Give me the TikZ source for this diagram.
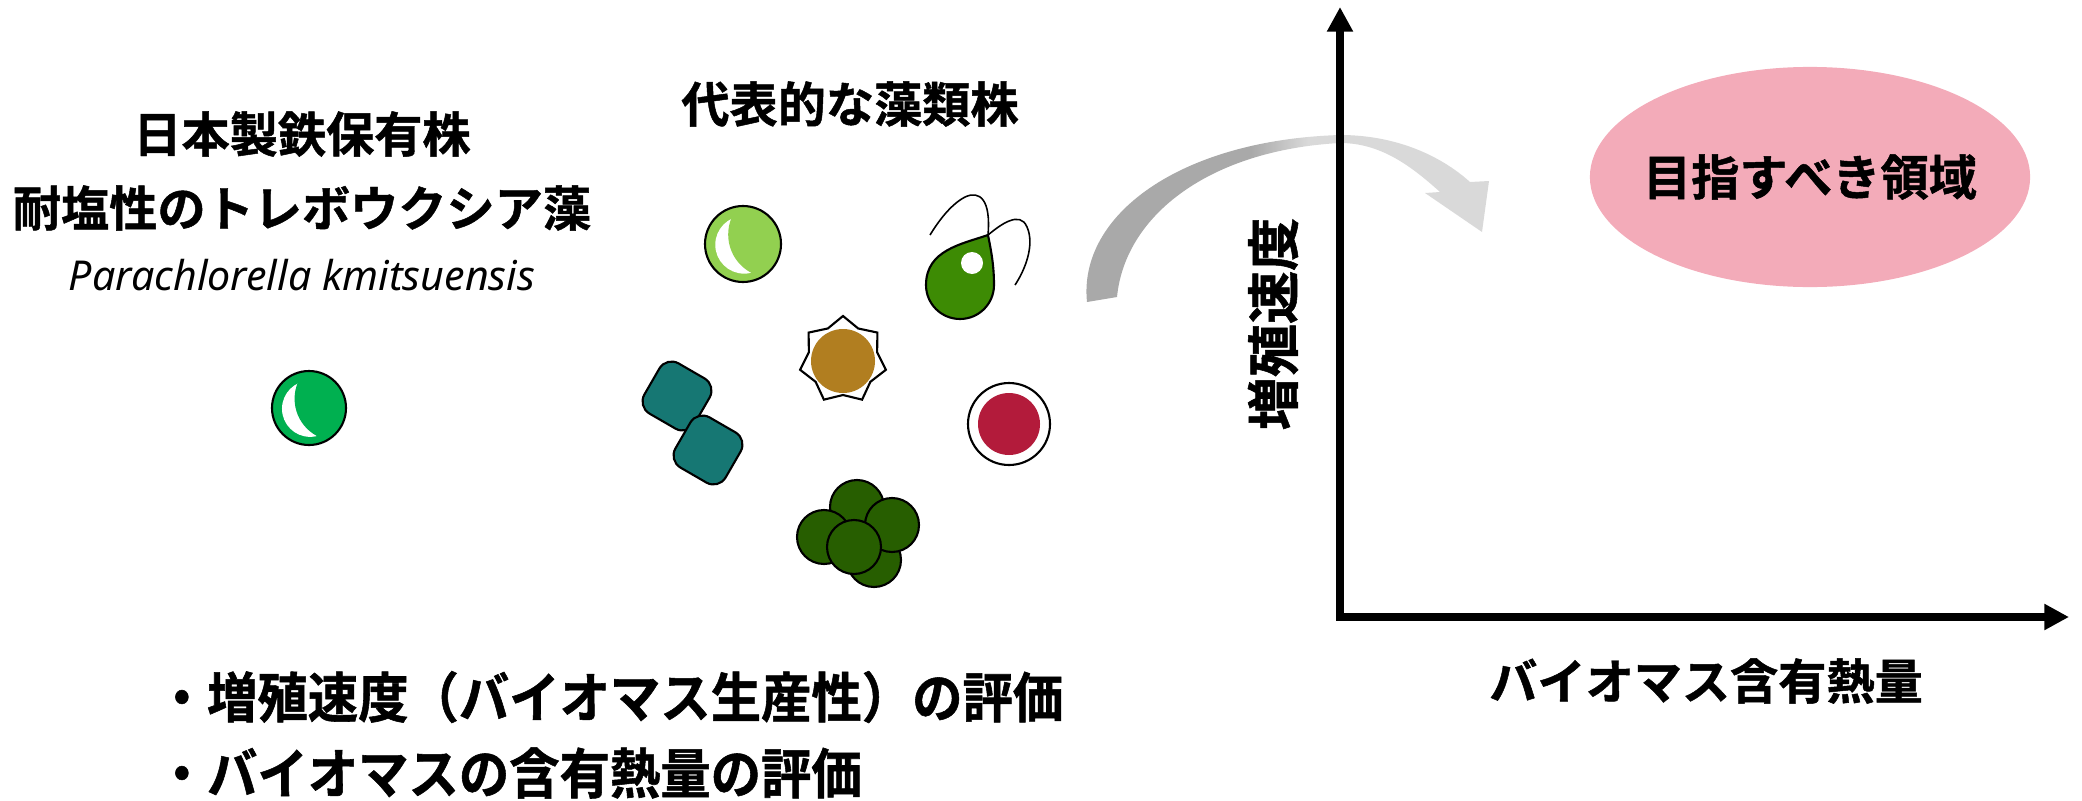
\documentclass[tikz,border=0pt]{standalone}
\usepackage{fontspec}
\usepackage{graphicx}
\setmainfont{Noto Sans}
\newfontfamily\jpfont{Noto Sans CJK JP}[BoldFont={Noto Sans CJK JP Bold}, BoldFeatures={FakeBold=1}]
\newfontfamily\jpnarrow{Noto Sans CJK JP Bold}[FakeStretch=0.93, FakeBold=1]
\usetikzlibrary{arrows.meta}
\usetikzlibrary{shapes.geometric}

\definecolor{cellpale}{HTML}{92D050}
\definecolor{cellgreen}{HTML}{00B050}
\definecolor{cellflag}{HTML}{3D8B04}
\definecolor{cellteal}{HTML}{167773}
\definecolor{cellbrown}{HTML}{B17E20}
\definecolor{cellred}{HTML}{B31B3B}
\definecolor{celldark}{HTML}{275E00}
\definecolor{arrowdark}{HTML}{A9A9A9}
\definecolor{arrowlight}{HTML}{D9D9D9}
\definecolor{goalpink}{HTML}{F3ABB9}

\pgfdeclarehorizontalshading{curvefade}{100bp}{color(0bp)=(arrowdark); color(46bp)=(arrowdark); color(53bp)=(arrowlight); color(100bp)=(arrowlight)}

\tikzset{
  cellline/.style={draw=black, line width=0.6pt},
  flagellum/.style={draw=black, line width=0.45pt},
  jptitle/.style={font=\jpfont\bfseries\fontsize{13.7}{16}\selectfont, inner sep=0pt},
  axislabel/.style={font=\jpfont\bfseries\fontsize{15.1}{18}\selectfont, inner sep=0pt},
  evalitem/.style={font=\jpnarrow\fontsize{15.4}{18}\selectfont, inner sep=0pt, anchor=west},
  species/.style={font=\itshape\fontsize{11.7}{14}\selectfont, inner sep=0pt},
  goal/.style={ellipse, fill=goalpink, minimum width=4.4cm, minimum height=2.2cm, inner sep=0pt},
  axisline/.style={line width=2.3pt, {Triangle[length=7pt,width=7pt]}-{Triangle[length=7pt,width=7pt]}}
}

% round cell with a white crescent on its left side
\newcommand{\crescentcell}[4]{%
  \begin{scope}[shift={(#1,#2)}]
    \fill[#4] (0,0) circle (#3);
    \begin{scope}
      \clip (0,0) circle (#3);
      \fill[white] ({0.03*#3},{0.02*#3}) circle ({0.76*#3});
      \fill[#4] ({0.75*#3},{-0.25*#3}) circle ({1.14*#3});
    \end{scope}
    \draw[cellline] (0,0) circle (#3);
  \end{scope}}

\begin{document}
\begin{tikzpicture}[x=0.01cm, y=-0.01cm]
    \useasboundingbox (0,0) rectangle (2082,800);

    \node[jptitle] (strain) at (302,134) {日本製鉄保有株};
    \node[jptitle] (strainname) at (302,208) {耐塩性のトレボウクシア藻};
    \node[species] (species) at (302,275) {Parachlorella kmitsuensis};
    \crescentcell{309}{408}{37}{cellgreen}

    \node[jptitle] (typical) at (850,104) {代表的な藻類株};
    \crescentcell{743}{244}{38}{cellpale}

    % flagellate
    \draw[flagellum] (988,235) .. controls (991,200) and (980,190) .. (965,197)
        .. controls (950,205) and (938,222) .. (930,235);
    \draw[flagellum] (988,235) .. controls (1000,225) and (1020,210) .. (1027,227)
        .. controls (1035,245) and (1025,270) .. (1015,285);
    \draw[cellline, fill=cellflag] (988,235) .. controls (962,244) and (926,250) .. (926,285)
        arc[start angle=180, end angle=0, radius=34]
        .. controls (994,265) and (991,250) .. (988,235) -- cycle;
    \fill[white] (972,263) circle (11);

    % star shaped cell
    \draw[cellline, fill=white, shift={(843,360)}] (-90:44)
        \foreach \k in {1,...,13} {-- ({-90+\k*180/7}:{ifthenelse(mod(\k,2)==1,35,44)})} -- cycle;
    \fill[cellbrown] (843,361) circle (32);

    \foreach \cx/\cy in {677/396, 708/450}
        \draw[cellline, fill=cellteal, rounded corners=4pt, shift={(\cx,\cy)}, rotate=60]
            (-29,-29) rectangle (29,29);

    \draw[cellline, fill=white] (1009,424) circle (41);
    \fill[cellred] (1009,424) circle (31);

    \foreach \cx/\cy in {874/560, 857/507, 824/537, 892/525, 854/547}
        \draw[cellline, fill=celldark] (\cx,\cy) circle (27);

    % curved arrow
    \path[shading=curvefade, shading angle=0] (1087,302)
        .. controls (1078,215) and (1180,140) .. (1340,135)
        .. controls (1395,135) and (1440,155) .. (1470,182)
        -- (1489,181) -- (1482,232) -- (1425,193) -- (1440,192)
        .. controls (1410,165) and (1380,143) .. (1340,143)
        .. controls (1210,150) and (1125,215) .. (1117,297) -- cycle;

    \coordinate (ytop) at (1340,7);
    \coordinate (origin) at (1340,617);
    \coordinate (xend) at (2069,617);
    \draw[axisline] (ytop) -- (origin) -- (xend);

    \node[goal] (goal) at (1810,177) {};
    \node[jptitle] (goaltext) at (goal.center) {目指すべき領域};
    \node[axislabel, rotate=90] (ylabel) at (1273,324) {増殖速度};
    \node[jptitle] (xlabel) at (1706,681) {バイオマス含有熱量};

    \node[evalitem] (evalrate) at (156,697) {・増殖速度（バイオマス生産性）の評価};
    \node[evalitem] (evalheat) at (156,773) {・バイオマスの含有熱量の評価};
\end{tikzpicture}
\end{document}
